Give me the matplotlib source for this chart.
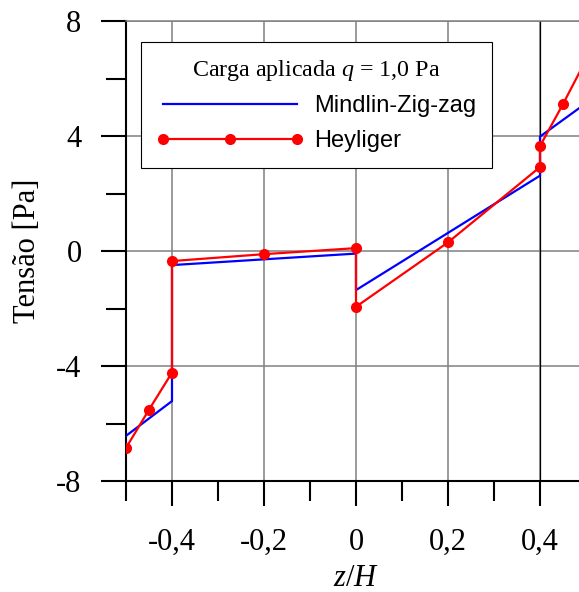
import matplotlib
matplotlib.use("Agg")
import matplotlib.pyplot as plt

# dados
z_mindlin = [-0.5, -0.4, -0.4, 0.0, 0.0, 0.4, 0.4, 0.5]
t_mindlin = [-6.43, -5.22, -0.49, -0.09, -1.36, 2.62, 3.98, 5.14]

z_heyliger = [-0.5, -0.45, -0.4, -0.4, -0.2, 0.0, 0.0, 0.2, 0.4, 0.4, 0.45, 0.5]
t_heyliger = [-6.85, -5.52, -4.23, -0.35, -0.11, 0.10, -1.94, 0.30, 2.92, 3.65, 5.11, 6.65]

x_ticks = [-0.4, -0.2, 0.0, 0.2, 0.4]
x_labels = ['-0,4', '-0,2', '0', '0,2', '0,4']
x_minor = [-0.5, -0.3, -0.1, 0.1, 0.3, 0.5]
y_ticks = [-8, -4, 0, 4, 8]
y_labels = ['-8', '-4', '0', '4', '8']
y_minor = [-6, -2, 2, 6]

plt.rcParams['font.family'] = 'Liberation Serif'
plt.rcParams['mathtext.fontset'] = 'custom'
plt.rcParams['mathtext.rm'] = 'Liberation Serif'
plt.rcParams['mathtext.it'] = 'Liberation Serif:italic'

fig = plt.figure(figsize=(5.79, 5.92), dpi=100)
# eixo cortado na borda direita, como na figura original
ax = fig.add_axes([126 / 579, 111 / 592, 460 / 579, 460 / 592])

ax.plot(z_mindlin, t_mindlin, color='#0000ff', lw=1.6, label='Mindlin-Zig-zag', zorder=3)
ax.plot(z_heyliger, t_heyliger, color='#ff0000', lw=1.6, marker='o', markersize=7,
        label='Heyliger', zorder=4)

ax.set_xlim(-0.5, 0.5)
ax.set_ylim(-8, 8)

ax.set_xticks(x_ticks)
ax.set_xticklabels(x_labels)
ax.set_xticks(x_minor, minor=True)
ax.set_yticks(y_ticks)
ax.set_yticklabels(y_labels)
ax.set_yticks(y_minor, minor=True)

ax.tick_params(which='major', direction='out', length=18, width=1.5, labelsize=22)
ax.tick_params(which='minor', direction='out', length=14.5, width=1.5)
ax.tick_params(axis='x', which='major', pad=16)
ax.tick_params(axis='y', which='major', pad=14)

ax.grid(True, which='major', color='#808080', lw=1.1)
ax.axvline(0.4, color='black', lw=0.9, zorder=2)

for s in ['left', 'bottom']:
    ax.spines[s].set_linewidth(1.5)
ax.spines['top'].set_color('#808080')
ax.spines['top'].set_linewidth(1.1)
ax.spines['right'].set_visible(False)

ax.set_xlabel('$z/H$', fontsize=22, labelpad=5)
ax.set_ylabel('Tensão [Pa]', fontsize=22, labelpad=10)

leg = ax.legend(loc='upper left', bbox_to_anchor=(0.0326, 0.954), borderaxespad=0,
                numpoints=3, handlelength=6.25, handletextpad=0.45, labelspacing=0.55,
                borderpad=0.65, fancybox=False, framealpha=1, edgecolor='black',
                title='Carga aplicada $q$ = 1,0 Pa',
                prop={'family': 'Liberation Sans', 'size': 17},
                title_fontproperties={'family': 'Liberation Serif', 'size': 17.3})
leg.get_frame().set_linewidth(0.8)

fig.savefig('out.png', dpi=100)
